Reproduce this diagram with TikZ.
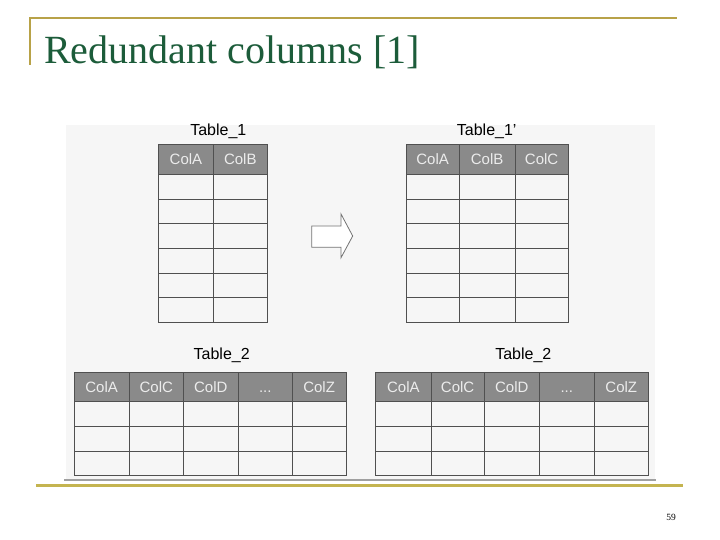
\documentclass[tikz,border=0pt]{standalone}
\usepackage{fontspec}
\setmainfont{Liberation Serif}
\newfontfamily\tabfont{Liberation Sans}
\newcommand\tdots{...}
\definecolor{goldline}{RGB}{184,162,72}
\definecolor{goldlow}{RGB}{196,180,80}
\definecolor{titlegreen}{RGB}{28,92,58}
\definecolor{imgbg}{RGB}{246,246,246}
\definecolor{hdrfill}{RGB}{138,138,138}
\definecolor{hdrtext}{RGB}{236,236,236}
\definecolor{cellline}{RGB}{80,80,80}
\definecolor{shadowline}{RGB}{160,160,160}
\tikzset{
  hdrcell/.style={fill=hdrfill, draw=cellline, line width=0.9pt},
  cellbox/.style={fill=imgbg, draw=cellline, line width=0.9pt},
  hdrtxt/.style={font=\tabfont\fontsize{15}{17}\selectfont, text=hdrtext, inner sep=0pt, text height=10.8pt, text depth=0pt},
  tlabel/.style={font=\tabfont\fontsize{16}{18}\selectfont, text=black, inner sep=0pt},
  arrowshape/.style={fill=white, draw=cellline!80, line width=0.8pt, line join=miter}
}
\begin{document}
\begin{tikzpicture}[x=1pt,y=-1pt]
\useasboundingbox (0,0) rectangle (720,540);
\fill[white] (0,0) rectangle (720,540);
% slide frame
\draw[goldline, line width=2pt] (29.5,65) -- (29.5,18.3) -- (677,18.3);
\draw[goldlow, line width=2.6pt] (36,485.3) -- (683,485.3);
\node[anchor=base west, inner sep=0pt, text=titlegreen, font=\fontsize{40}{42}\selectfont] (title) at (44,63.3) {Redundant columns [1]};
\node[anchor=base, inner sep=0pt, font=\fontsize{9.5}{10}\selectfont] (pagenum) at (671,520) {59};
% image background
\fill[imgbg] (66,125) rectangle (655,480);
\draw[shadowline, line width=1.2pt] (64,480) -- (655.7,480);

% Table_1
\node[tlabel] (t1lab) at (218.3,131.7) {Table\_1};
\foreach \xa/\xb/\t/\n in {158.7/213.3/ColA/a, 213.3/267.3/ColB/b}{
  \filldraw[hdrcell] (\xa,144.3) rectangle (\xb,174.3);
  \node[hdrtxt] (t1\n) at ({(\xa+\xb)/2},159.3) {\t};
  \foreach \r in {0,...,5}
    \draw[cellbox] (\xa,{174.3+\r*24.67}) rectangle (\xb,{174.3+(\r+1)*24.67});
}

% Table_1'
\node[tlabel] (t1plab) at (486.7,131.7) {Table\_1’};
\foreach \xa/\xb/\t/\n in {406/459.3/ColA/a, 459.3/515/ColB/b, 515/568.3/ColC/c}{
  \filldraw[hdrcell] (\xa,144.3) rectangle (\xb,174.3);
  \node[hdrtxt] (t1p\n) at ({(\xa+\xb)/2},159.3) {\t};
  \foreach \r in {0,...,5}
    \draw[cellbox] (\xa,{174.3+\r*24.67}) rectangle (\xb,{174.3+(\r+1)*24.67});
}

% block arrow
\draw[arrowshape] (311.7,226) -- (341,226) -- (341,214) -- (352.7,236) -- (341,257.7) -- (341,247.3) -- (311.7,247.3) -- cycle;

% Table_2 (left)
\node[tlabel] (t2lab) at (221.7,355) {Table\_2};
\foreach \xa/\xb/\t/\n in {74/129.3/ColA/a, 129.3/183.3/ColC/c, 183.3/238.3/ColD/d, 238.3/292.3/\tdots/e, 292.3/346/ColZ/z}{
  \filldraw[hdrcell] (\xa,372.7) rectangle (\xb,401.7);
  \node[hdrtxt] (t2\n) at ({(\xa+\xb)/2},387.2) {\t};
  \foreach \r in {0,...,2}
    \draw[cellbox] (\xa,{401.7+\r*24.67}) rectangle (\xb,{401.7+(\r+1)*24.67});
}

% Table_2 (right)
\node[tlabel] (t2rlab) at (523.3,355) {Table\_2};
\foreach \xa/\xb/\t/\n in {375.7/431/ColA/a, 431/484.3/ColC/c, 484.3/539.3/ColD/d, 539.3/594.3/\tdots/e, 594.3/648.3/ColZ/z}{
  \filldraw[hdrcell] (\xa,372.7) rectangle (\xb,401.7);
  \node[hdrtxt] (t2r\n) at ({(\xa+\xb)/2},387.2) {\t};
  \foreach \r in {0,...,2}
    \draw[cellbox] (\xa,{401.7+\r*24.67}) rectangle (\xb,{401.7+(\r+1)*24.67});
}
\end{tikzpicture}
\end{document}
